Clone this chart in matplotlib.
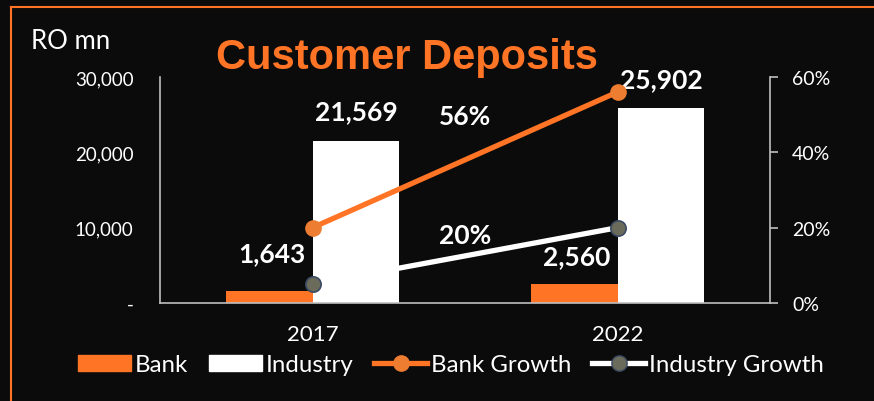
import matplotlib

matplotlib.use("Agg")
import matplotlib.pyplot as plt
from matplotlib.lines import Line2D
from matplotlib.patches import Patch
from matplotlib.ticker import FuncFormatter
import numpy as np

# deposits in RO mn, growth in percent
years = ["2017", "2022"]
bank = [1643, 2560]
industry = [21569, 25902]
bank_growth = [20, 56]
industry_growth = [5, 20]

BG = "#0b0b0b"
ORANGE = "#ff7425"
ORANGE_MK = "#ed7d31"
GREY_MK = "#6b6b5c"
GREY_EDGE = "#3b4a63"
AXIS = "#bfbfbf"

plt.rcParams["font.family"] = ["Lato", "DejaVu Sans"]

fig = plt.figure(figsize=(8.74, 4.02), dpi=100, facecolor=BG)
ax = fig.add_axes([160 / 874, 98 / 402, 610 / 874, 226 / 402], facecolor=BG)
ax2 = ax.twinx()

x = np.arange(len(years))
w = 0.285
ax.bar(x - w / 2, bank, w, color=ORANGE, zorder=2)
ax.bar(x + w / 2, industry, w, color="white", zorder=2)

ax.set_xlim(-0.5, 1.5)
ax.set_ylim(0, 30000)
ax.set_yticks([0, 10000, 20000, 30000])
ax.yaxis.set_major_formatter(FuncFormatter(lambda v, p: "-" if v == 0 else f"{v:,.0f}"))
ax.set_xticks(x)
ax.set_xticklabels(years)
ax.tick_params(axis="y", length=0, pad=19, labelsize=13.5, colors="white")
ax.tick_params(axis="x", length=0, pad=15, labelsize=16, colors="white")
for s in ("top", "right"):
    ax.spines[s].set_visible(False)
for s in ("left", "bottom"):
    ax.spines[s].set_color(AXIS)
    ax.spines[s].set_linewidth(1.2)

# value labels on the bars
for xi, v in zip(x, industry):
    ax.annotate(f"{v:,}", (xi + w / 2, v), xytext=(0, 21), textcoords="offset points",
                ha="center", va="center", color="white", fontsize=19, fontweight="bold")
for xi, v, dy in zip(x, bank, [27, 20]):
    ax.annotate(f"{v:,}", (xi, v), xytext=(-5, dy), textcoords="offset points",
                ha="right", va="center", color="white", fontsize=19, fontweight="bold")

# growth lines on the right axis
ax2.plot(x, bank_growth, color=ORANGE, lw=3.8, marker="o", ms=11,
         mfc=ORANGE_MK, mec=ORANGE_MK, zorder=3)
ax2.plot(x, industry_growth, color="white", lw=3.8, marker="o", ms=11,
         mfc=GREY_MK, mec=GREY_EDGE, mew=1.2, zorder=3)
ax2.set_ylim(0, 60)
ax2.set_yticks([0, 20, 40, 60])
ax2.yaxis.set_major_formatter(FuncFormatter(lambda v, p: f"{v:.0f}%"))
ax2.tick_params(axis="y", length=6, width=1.2, color=AXIS, pad=10, labelsize=14,
                labelcolor="white")
for s in ("top", "left", "bottom"):
    ax2.spines[s].set_visible(False)
ax2.spines["right"].set_color(AXIS)
ax2.spines["right"].set_linewidth(1.2)

ax2.annotate(f"{bank_growth[-1]}%", (0.5, bank_growth[-1]), xytext=(0, -17),
             textcoords="offset points", ha="center", va="center",
             color="white", fontsize=19, fontweight="bold")
ax2.annotate(f"{industry_growth[-1]}%", (0.5, industry_growth[-1]), xytext=(0, -5),
             textcoords="offset points", ha="center", va="center",
             color="white", fontsize=19, fontweight="bold")

fig.text(407 / 874, 1 - 69 / 402, "Customer Deposits", ha="center", va="baseline",
         color=ORANGE, fontsize=30, fontweight="bold", family="Liberation Sans")
fig.text(31 / 874, 1 - 49 / 402, "RO mn", ha="left", va="baseline", color="white", fontsize=18.5)

handles = [
    Patch(color=ORANGE, label="Bank"),
    Patch(color="white", label="Industry"),
    Line2D([], [], color=ORANGE, lw=3.8, marker="o", ms=11, mfc=ORANGE_MK, mec=ORANGE_MK,
           label="Bank Growth"),
    Line2D([], [], color="white", lw=3.8, marker="o", ms=11, mfc=GREY_MK, mec=GREY_EDGE,
           label="Industry Growth"),
]
leg = fig.legend(handles=handles, loc="center", bbox_to_anchor=(451 / 874, 1 - 366 / 402),
                 ncol=4, frameon=False, fontsize=17.3, labelcolor="white",
                 handlelength=2.2, handleheight=0.62, handletextpad=0.18, columnspacing=0.85)

# orange frame around the panel
fig.add_artist(Line2D([11 / 874, 11 / 874], [0, 1 - 8 / 402], color=ORANGE, lw=1.5,
                      transform=fig.transFigure))
fig.add_artist(Line2D([11 / 874, 1], [1 - 8 / 402, 1 - 8 / 402], color=ORANGE, lw=1.5,
                      transform=fig.transFigure))

fig.savefig("out.png", dpi=100, facecolor=BG)
